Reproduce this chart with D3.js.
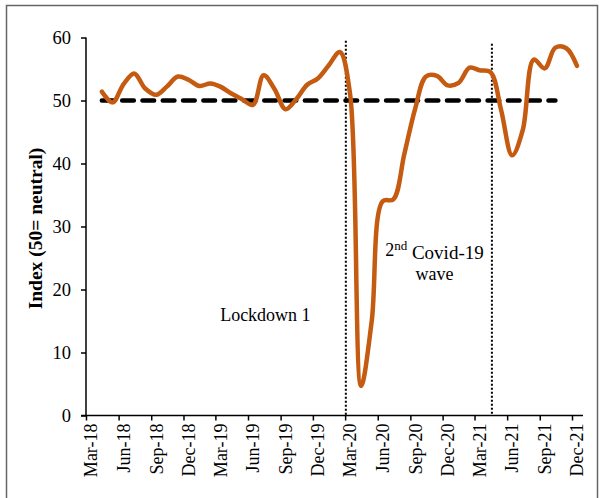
<!DOCTYPE html>
<html>
<head>
<meta charset="utf-8">
<script src="https://cdn.jsdelivr.net/npm/d3@7"></script>
<style>
  body { margin: 0; background: #fff; }
  text { font-family: "Liberation Serif", "Times New Roman", serif; }
</style>
</head>
<body>
<div id="chart"></div>
<script>
// months of the series (plotted mid-month)
var months = ["Apr-18","May-18","Jun-18","Jul-18","Aug-18","Sep-18","Oct-18","Nov-18","Dec-18",
  "Jan-19","Feb-19","Mar-19","Apr-19","May-19","Jun-19","Jul-19","Aug-19","Sep-19","Oct-19","Nov-19","Dec-19",
  "Jan-20","Feb-20","Mar-20","Apr-20","May-20","Jun-20","Jul-20","Aug-20","Sep-20","Oct-20","Nov-20","Dec-20",
  "Jan-21","Feb-21","Mar-21","Apr-21","May-21","Jun-21","Jul-21","Aug-21","Sep-21","Oct-21","Nov-21","Dec-21"];

var index = [51.4, 49.7, 52.6, 54.3, 51.9, 50.9, 52.2, 53.8, 53.3,
  52.3, 52.7, 52.2, 51.1, 50.2, 49.3, 54.0, 51.8, 48.6, 50.2, 52.5, 53.5,
  55.6, 57.7, 51.0, 4.7, 15.0, 34.0, 34.3, 41.5, 48.8, 53.8, 53.9, 52.4,
  52.8, 55.2, 54.8, 54.5, 48.5, 41.3, 45.3, 56.5, 55.1, 58.4, 58.3, 55.5];

// neutral reference line (50) runs Apr-18 .. Oct-21
var neutralMonths = ["Apr-18", "Oct-21"];
var neutralValue = 50;

var tickLabels = ["Mar-18","Jun-18","Sep-18","Dec-18","Mar-19","Jun-19","Sep-19","Dec-19",
  "Mar-20","Jun-20","Sep-20","Dec-20","Mar-21","Jun-21","Sep-21","Dec-21"];
var yTicks = [0, 10, 20, 30, 40, 50, 60];

// event markers (dotted verticals)
var eventDates = ["2020-03-03", "2021-04-19"];

var annotations = [
  {lines: ["Lockdown 1"], date: "2019-07-20", value: 15.0},
  {lines: ["2|nd| Covid-19", "wave"], date: "2020-11-08", value: 25.3}
];

var W = 600, H = 498;
var margin = {top: 37.5, right: 17, bottom: 82.5, left: 86},
    width = W - margin.left - margin.right,
    height = H - margin.top - margin.bottom;

var parseMonth = d3.timeParse("%b-%y");
var parseDay = d3.timeParse("%Y-%m-%d");
var midMonth = function(s){ return d3.timeDay.offset(parseMonth(s), 14); };

var data = months.map(function(m, i){ return {date: midMonth(m), value: index[i]}; });

var svg = d3.select("#chart").append("svg")
    .attr("width", W).attr("height", H);

// outer frame
svg.append("path")
    .attr("d", "M6.5,500V5.5H597.5V500")
    .style("fill", "none").style("stroke", "#666").style("stroke-width", 1.5);

var g = svg.append("g")
    .attr("transform", "translate(" + margin.left + "," + margin.top + ")");

var x = d3.scaleTime()
    .domain([new Date(2018, 2, 1), new Date(2022, 0, 1)])
    .range([0, width]);

var y = d3.scaleLinear()
    .domain([0, 60])
    .range([height, 0]);

// y axis
var yAxis = g.append("g")
    .call(d3.axisLeft(y).tickValues(yTicks).tickSize(5).tickPadding(10));
yAxis.select(".domain").attr("d", "M0," + y(60) + "V" + y(0));
yAxis.selectAll("path, line").style("stroke", "#000").style("stroke-width", 1.5);
yAxis.selectAll("text").style("font-size", "18.5px").style("fill", "#000")
    .style("font-family", "Liberation Serif");

// x axis
var xAxis = g.append("g")
    .attr("transform", "translate(0," + height + ")")
    .call(d3.axisBottom(x).tickValues(tickLabels.map(parseMonth)).tickSize(5).tickFormat(d3.timeFormat("%b-%y")));
xAxis.select(".domain").attr("d", "M-5,0H" + width);
xAxis.selectAll("path, line").style("stroke", "#000").style("stroke-width", 1.5);
xAxis.selectAll("text")
    .style("font-size", "18px").style("fill", "#000").style("font-family", "Liberation Serif")
    .attr("text-anchor", "end")
    .attr("transform", "rotate(-90)")
    .attr("x", -8).attr("y", 0).attr("dy", "0.6em");

// y title
svg.append("text")
    .attr("transform", "translate(42," + (margin.top + height / 2 + 2) + ") rotate(-90)")
    .attr("text-anchor", "middle")
    .style("font-size", "19.5px").style("font-weight", "bold")
    .text("Index (50= neutral)");

// dotted event lines
g.selectAll(".event").data(eventDates).enter().append("line")
    .attr("x1", function(d){ return x(parseDay(d)); })
    .attr("x2", function(d){ return x(parseDay(d)); })
    .attr("y1", function(d, i){ return y(i == 0 ? 59.5 : 59.0); })
    .attr("y2", y(0))
    .style("stroke", "#000").style("stroke-width", 2).style("stroke-dasharray", "2,2");

// neutral dashed line
g.append("line")
    .attr("x1", x(midMonth(neutralMonths[0]))).attr("x2", x(midMonth(neutralMonths[1])))
    .attr("y1", y(neutralValue)).attr("y2", y(neutralValue))
    .style("stroke", "#000").style("stroke-width", 4.7)
    .style("stroke-dasharray", "11.5,8.8").style("stroke-linecap", "round");

// the index line
var line = d3.line()
    .x(function(d){ return x(d.date); })
    .y(function(d){ return y(d.value); })
    .curve(d3.curveCatmullRom.alpha(0.5));

g.append("path")
    .datum(data)
    .attr("d", line)
    .style("fill", "none")
    .style("stroke", "#C55A11")
    .style("stroke-width", 4.5)
    .style("stroke-linecap", "round").style("stroke-linejoin", "round");

// annotations
annotations.forEach(function(a){
  var t = g.append("text")
      .attr("text-anchor", "middle")
      .attr("transform", "translate(" + x(parseDay(a.date)) + "," + y(a.value) + ")")
      .style("font-size", "18px");
  a.lines.forEach(function(l, i){
    var ts = t.append("tspan").attr("x", 0).attr("dy", i == 0 ? 0 : "1.2em");
    var parts = l.split("|");
    if (parts.length == 1) { ts.text(l); return; }
    ts.text(parts[0]);
    t.append("tspan").attr("dy", "-0.45em").style("font-size", "13px").text(parts[1]);
    t.append("tspan").attr("dy", "0.45em").style("font-size", "19px").text(parts[2]);
  });
});
</script>
</body>
</html>
